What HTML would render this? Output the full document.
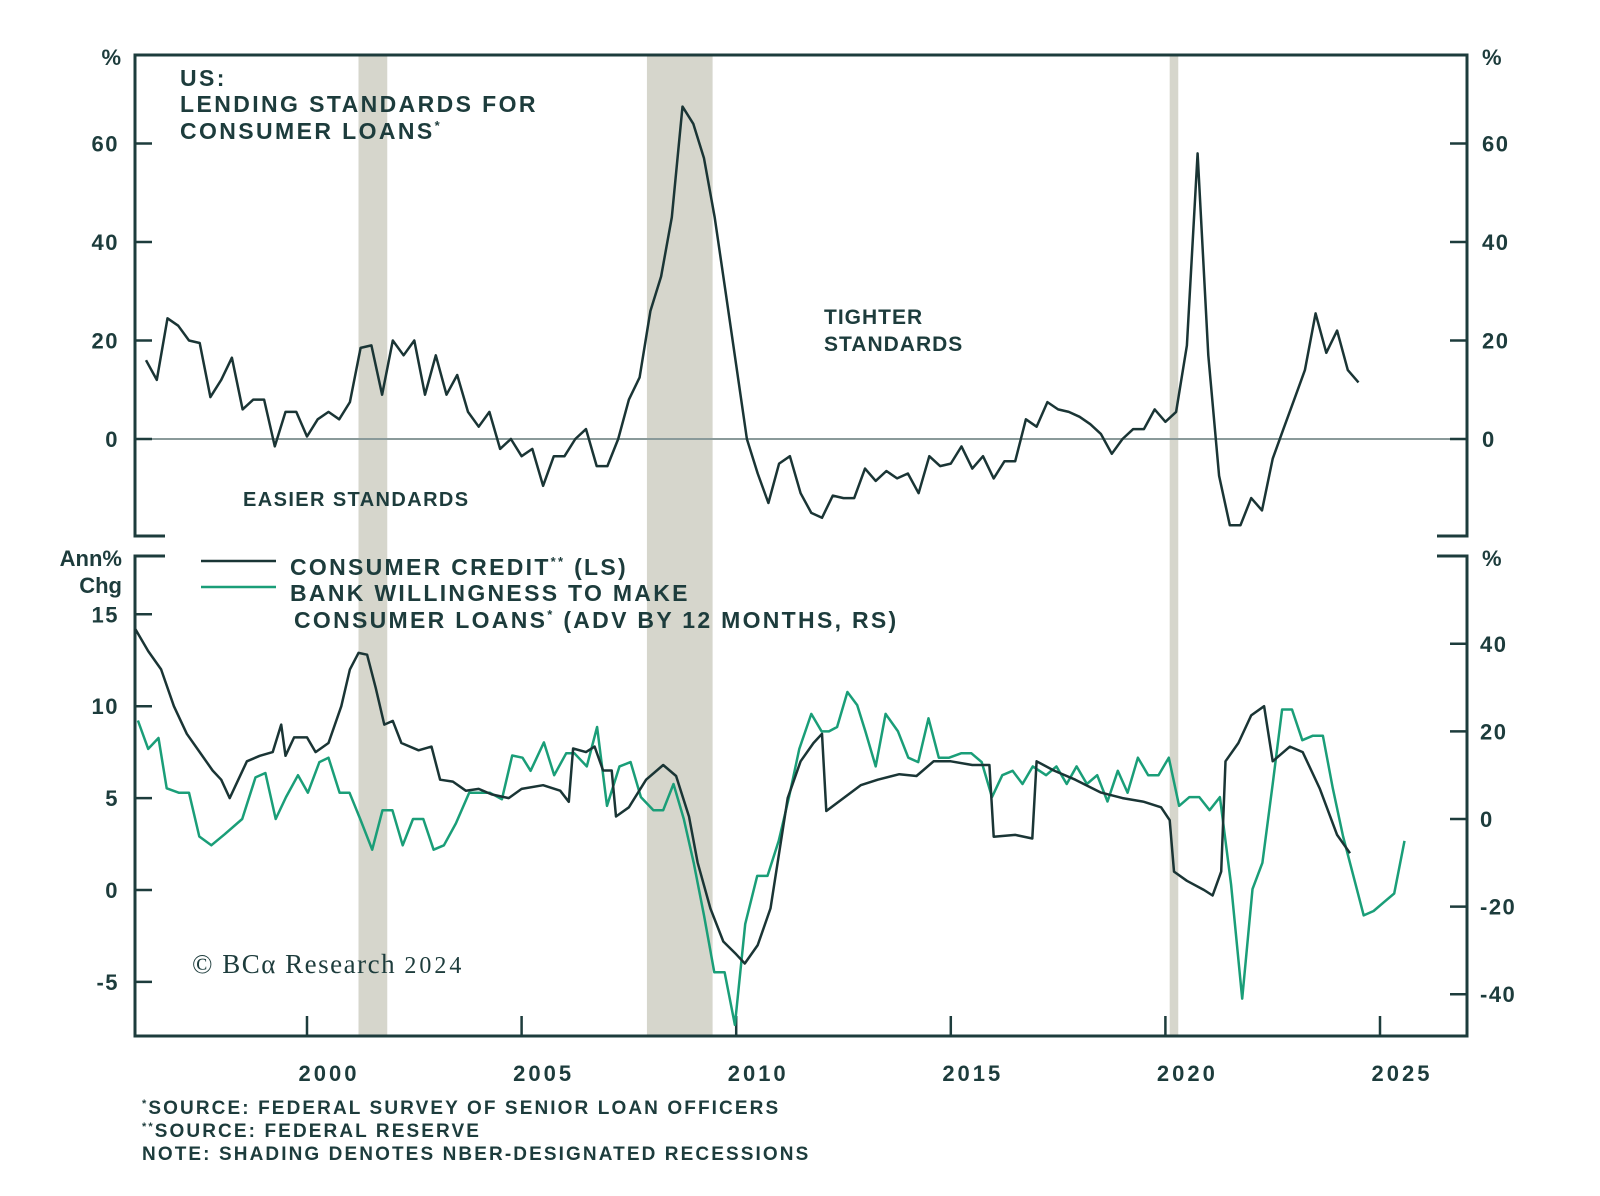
<!DOCTYPE html>
<html><head><meta charset="utf-8">
<style>
html,body{margin:0;padding:0;background:#fff;}
svg text{font-family:"Liberation Sans",sans-serif;font-weight:bold;fill:#1d3c3c;}
</style></head>
<body>
<svg id="chart" width="1600" height="1191" viewBox="0 0 1600 1191" xmlns="http://www.w3.org/2000/svg">
<g id="shade"></g>
<g id="axes"></g>
<g id="series"></g>
<g>
<text x="180" y="86" font-size="23" letter-spacing="2.4">US:</text>
<text x="180" y="112" font-size="23" letter-spacing="2.4">LENDING STANDARDS FOR</text>
<text x="180" y="139" font-size="23" letter-spacing="2.4">CONSUMER LOANS<tspan font-size="13" dy="-9">*</tspan></text>
<text x="824" y="324" font-size="21" letter-spacing="1">TIGHTER</text>
<text x="824" y="351" font-size="21" letter-spacing="1">STANDARDS</text>
<text x="243" y="506" font-size="20" letter-spacing="1.4">EASIER STANDARDS</text>
<line x1="201" y1="561" x2="276" y2="561" stroke="#1a3535" stroke-width="2.5"/>
<line x1="201" y1="587" x2="276" y2="587" stroke="#1a9e78" stroke-width="2.5"/>
<text x="290" y="575" font-size="23" letter-spacing="2.3">CONSUMER CREDIT<tspan font-size="13" dy="-9">**</tspan><tspan dy="9"> (LS)</tspan></text>
<text x="290" y="601" font-size="23" letter-spacing="2.3">BANK WILLINGNESS TO MAKE</text>
<text x="294" y="628" font-size="23" letter-spacing="2.3">CONSUMER LOANS<tspan font-size="13" dy="-9">*</tspan><tspan dy="9"> (ADV BY 12 MONTHS, RS)</tspan></text>
<text x="122" y="566" font-size="22" text-anchor="end">Ann%</text>
<text x="122" y="593" font-size="22" text-anchor="end">Chg</text>
<text x="121" y="65" font-size="22" text-anchor="end">%</text>
<text x="1482" y="65" font-size="22">%</text>
<text x="1482" y="566" font-size="22">%</text>
<text x="192" y="973" font-size="27" letter-spacing="1.5" style="font-family:'Liberation Serif',serif;font-weight:normal">© BCα Research <tspan font-size="24" letter-spacing="3">2024</tspan></text>
<text x="142" y="1114" font-size="19" letter-spacing="2.1"><tspan font-size="11" dy="-7">*</tspan><tspan dy="7">SOURCE: FEDERAL SURVEY OF SENIOR LOAN OFFICERS</tspan></text>
<text x="142" y="1137" font-size="19" letter-spacing="2.1"><tspan font-size="11" dy="-7">**</tspan><tspan dy="7">SOURCE: FEDERAL RESERVE</tspan></text>
<text x="142" y="1160" font-size="19" letter-spacing="2.1">NOTE: SHADING DENOTES NBER-DESIGNATED RECESSIONS</text>
</g>
</svg>
<script>
const recessions=[[2001.2,2001.87],[2007.92,2009.45],[2020.1,2020.3]];
const xTicks=[2000,2005,2010,2015,2020,2025];
const topTicks=[0,20,40,60];
const leftTicks=[-5,0,5,10,15];
const rightTicks=[-40,-20,0,20,40];
const stdStart=1996.25;
const stdValues=[16,12,24.5,23,20,19.5,8.5,12,16.5,6,8,8,-1.5,5.5,5.5,0.5,4,5.5,4,7.5,18.5,19,9,20,17,20,9,17,9,13,5.5,2.5,5.5,-2,0,-3.5,-2,-9.5,-3.5,-3.5,0,2,-5.5,-5.5,0,8,12.5,26,33,45,67.5,64,57,45,30,15,0,-7,-13,-5,-3.5,-11,-15,-16,-11.5,-12,-12,-6,-8.5,-6.5,-8,-7,-11,-3.5,-5.5,-5,-1.5,-6,-3.5,-8,-4.5,-4.5,4,2.5,7.5,6,5.5,4.5,3,1,-3,0,2,2,6,3.5,5.5,19,58,17,-7.5,-17.5,-17.5,-12,-14.5,-4,2,8,14,25.5,17.5,22,14,11.5];
const creditDates=[1996.0,1996.3,1996.6,1996.9,1997.2,1997.5,1997.8,1998.0,1998.2,1998.4,1998.6,1998.9,1999.2,1999.4,1999.5,1999.7,2000.0,2000.2,2000.5,2000.8,2001.0,2001.2,2001.4,2001.6,2001.8,2002.0,2002.2,2002.6,2002.9,2003.1,2003.4,2003.7,2004.0,2004.3,2004.7,2005.0,2005.5,2005.9,2006.1,2006.2,2006.5,2006.7,2006.9,2007.1,2007.2,2007.5,2007.9,2008.3,2008.6,2008.9,2009.1,2009.4,2009.7,2010.0,2010.2,2010.5,2010.8,2011.0,2011.2,2011.5,2011.8,2012.0,2012.1,2012.5,2012.9,2013.3,2013.8,2014.2,2014.6,2015.0,2015.5,2015.9,2016.0,2016.5,2016.9,2017.0,2017.4,2017.9,2018.5,2019.0,2019.5,2019.9,2020.1,2020.2,2020.5,2020.9,2021.1,2021.3,2021.4,2021.7,2022.0,2022.3,2022.5,2022.9,2023.2,2023.6,2024.0,2024.3];
const creditValues=[14.2,13,12,10,8.5,7.5,6.5,6,5,6,7,7.3,7.5,9,7.3,8.3,8.3,7.5,8,10,12,12.9,12.8,11,9,9.2,8,7.6,7.8,6,5.9,5.4,5.5,5.2,5,5.5,5.7,5.4,4.8,7.7,7.5,7.8,6.5,6.5,4,4.5,6,6.8,6.2,4,1.5,-1,-2.8,-3.5,-4,-3,-1,2,5,7,8,8.5,4.3,5,5.7,6,6.3,6.2,7,7,6.8,6.8,2.9,3,2.8,7,6.5,6,5.3,5,4.8,4.5,3.8,1,0.5,0,-0.3,1,7,8,9.5,10,7,7.8,7.5,5.5,3,2];
const willDates=[1996.06,1996.30,1996.54,1996.73,1997.01,1997.25,1997.49,1997.77,1998.08,1998.49,1998.80,1999.03,1999.27,1999.51,1999.79,2000.02,2000.29,2000.50,2000.76,2000.99,2001.24,2001.52,2001.76,2001.99,2002.23,2002.47,2002.71,2002.95,2003.19,2003.47,2003.78,2004.02,2004.26,2004.54,2004.78,2005.02,2005.21,2005.52,2005.76,2006.04,2006.23,2006.52,2006.76,2006.99,2007.28,2007.54,2007.78,2008.07,2008.30,2008.54,2008.78,2009.01,2009.25,2009.49,2009.73,2009.97,2010.21,2010.49,2010.73,2010.99,2011.23,2011.47,2011.75,2011.99,2012.16,2012.35,2012.59,2012.82,2013.01,2013.25,2013.48,2013.77,2014.01,2014.24,2014.48,2014.72,2014.96,2015.24,2015.48,2015.72,2015.96,2016.20,2016.44,2016.67,2016.91,2017.22,2017.46,2017.70,2017.93,2018.17,2018.41,2018.65,2018.89,2019.12,2019.36,2019.60,2019.84,2020.08,2020.32,2020.56,2020.79,2021.03,2021.27,2021.53,2021.79,2022.03,2022.26,2022.50,2022.72,2022.95,2023.19,2023.43,2023.67,2023.90,2024.14,2024.38,2024.62,2024.85,2025.09,2025.33,2025.57];
const willValues=[22.5,16,18.5,7,6,6,-4,-6,-3.5,0,9.5,10.5,0,5,10,6,13,14,6,6,0,-7,2,2,-6,0,0,-7,-6,-1,6,6,6,4.5,14.5,14,11,17.5,10,15,15,12,21,3,12,13,5,2,2,8,0,-10,-22,-35,-35,-47,-24,-13,-13,-5,5,16,24,20,20,21,29,26,20,12,24,20,14,13,23,14,14,15,15,13,5,10,11,8,12,10,12,8,12,8,10,4,11,6,14,10,10,14,3,5,5,2,5,-15,-41,-16,-10,8,25,25,18,19,19,7,-4,-13,-22,-21,-19,-17,-5];

const NS='http://www.w3.org/2000/svg';
const X0=135,X1=1467,TOP=55,TB=536,BT=556,BB=1036;
const xs=y=>307+(y-2000)*42.92;
const yTop=v=>439-v*4.925;
const yL=v=>890-v*18.38;
const yR=v=>819-v*4.38;
function mk(tag,attrs,parent){const e=document.createElementNS(NS,tag);for(const k in attrs)e.setAttribute(k,attrs[k]);parent.appendChild(e);return e;}
const shade=document.getElementById('shade'),axes=document.getElementById('axes'),series=document.getElementById('series');
recessions.forEach(r=>{
  const e=mk('rect',{x:xs(r[0]),y:TOP,width:xs(r[1])-xs(r[0]),height:BB-TOP,fill:'#d6d6cc'},shade);
  
  
});
const z=mk('line',{x1:X0,x2:X1,y1:yTop(0),y2:yTop(0),stroke:'#8a9a9a','stroke-width':2},axes);


const C='#1d3c3c';
const frame='M'+(X0+30)+','+TB+'H'+X0+'V'+TOP+'H'+X1+'V'+TB+'H'+(X1-30)+
 ' M'+(X0+30)+','+BT+'H'+X0+'V'+BB+'H'+X1+'V'+BT+'H'+(X1-30);
const fr=mk('path',{d:frame,fill:'none',stroke:C,'stroke-width':3},axes);


topTicks.forEach(v=>{
  const y=yTop(v);
  mk('line',{x1:X0,x2:X0+17,y1:y,y2:y,stroke:C,'stroke-width':2.5},axes);
  mk('line',{x1:X1-17,x2:X1,y1:y,y2:y,stroke:C,'stroke-width':2.5},axes);
  const t=mk('text',{x:119,y:y+8,'font-size':22,'text-anchor':'end','letter-spacing':1.5},axes);t.textContent=v;
  
  
  const t2=mk('text',{x:1482,y:y+8,'font-size':22,'letter-spacing':1.5},axes);t2.textContent=v;
  
  
});
leftTicks.forEach(v=>{
  const y=yL(v);
  mk('line',{x1:X0,x2:X0+17,y1:y,y2:y,stroke:C,'stroke-width':2.5},axes);
  const t=mk('text',{x:119,y:y+8,'font-size':22,'text-anchor':'end','letter-spacing':1.5},axes);t.textContent=v;
  
  
});
rightTicks.forEach(v=>{
  const y=yR(v);
  mk('line',{x1:X1-17,x2:X1,y1:y,y2:y,stroke:C,'stroke-width':2.5},axes);
  const t=mk('text',{x:1480,y:y+8,'font-size':22,'letter-spacing':1.5},axes);t.textContent=v;
  
  
});
xTicks.forEach(v=>{
  const x=xs(v);
  mk('line',{x1:x,x2:x,y1:BB-20,y2:BB,stroke:C,'stroke-width':2.5},axes);
  const t=mk('text',{x:x+22,y:1081,'font-size':22,'text-anchor':'middle','letter-spacing':3},axes);t.textContent=v;
  
  
});
function line(pts,color,name){
  const p=mk('polyline',{points:pts.map(q=>q[0].toFixed(1)+','+q[1].toFixed(1)).join(' '),fill:'none',stroke:color,'stroke-width':2.5,'stroke-linejoin':'round'},series);
  
  
}
line(willValues.map((v,i)=>[xs(willDates[i]),yR(v)]),'#1a9e78','bank-willingness-line');
line(creditValues.map((v,i)=>[xs(creditDates[i]),yL(v)]),'#1a3535','consumer-credit-line');
line(stdValues.map((v,i)=>[xs(stdStart+i*0.25),yTop(v)]),'#1a3535','lending-standards-line');
</script>
</body></html>
